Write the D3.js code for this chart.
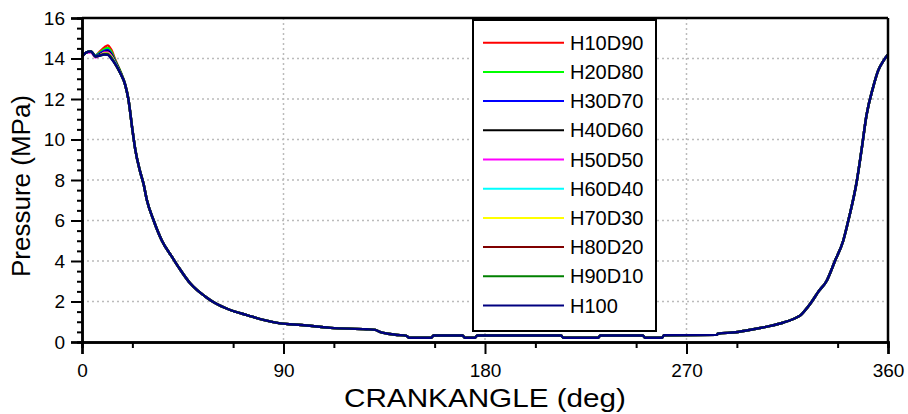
<!DOCTYPE html>
<html>
<head>
<meta charset="utf-8">
<script src="https://cdn.jsdelivr.net/npm/d3@7"></script>
<style>
body { margin: 0; background: #fff; }
text { font-family: Arial, "Liberation Sans", sans-serif; }
</style>
</head>
<body>
<div id="chart"></div>
<script>
// series names + colours
var seriesNames = ["H10D90", "H20D80", "H30D70", "H40D60", "H50D50", "H60D40", "H70D30", "H80D20", "H90D10", "H100"];
var seriesColors = ["#ff0000", "#00ff00", "#0000ff", "#000000", "#ff00ff", "#00ffff", "#ffff00", "#800000", "#008000", "#000080"];

// near TDC the fuels differ (crank angle 0..17 deg)
var peakAngles = [0, 2, 4, 6, 8, 10, 11.5, 13, 15, 17];
var peakP = [
	[14.1, 14.3, 14.35, 14.15, 14.35, 14.55, 14.65, 14.45, 13.9, 13.4],
	[14.1, 14.3, 14.35, 14.15, 14.3, 14.45, 14.52, 14.35, 13.85, 13.4],
	[14.1, 14.3, 14.35, 14.12, 14.25, 14.38, 14.42, 14.25, 13.8, 13.35],
	[14.1, 14.3, 14.35, 14.1, 14.2, 14.32, 14.35, 14.2, 13.8, 13.35],
	[14.05, 14.3, 14.3, 14.05, 14.15, 14.3, 14.3, 14.15, 13.75, 13.3],
	[14.1, 14.3, 14.35, 14.1, 14.15, 14.25, 14.25, 14.1, 13.75, 13.3],
	[14.1, 14.3, 14.35, 14.1, 14.15, 14.25, 14.25, 14.1, 13.7, 13.3],
	[14.1, 14.3, 14.35, 14.1, 14.15, 14.22, 14.22, 14.05, 13.7, 13.3],
	[14.1, 14.3, 14.35, 14.1, 14.15, 14.2, 14.2, 14.05, 13.7, 13.3],
	[14.1, 14.3, 14.35, 14.1, 14.15, 14.2, 14.18, 14.0, 13.7, 13.3]
];

// after ~17 deg all curves sit on top of each other
var tailAngles = [19.3, 20.7, 22.5, 23.8, 26, 27.5, 29, 32, 35.7, 40.2, 43.1, 48.3, 51.3, 55, 59, 66.2, 73.7, 81, 88.5, 98, 111, 127, 131, 133, 140, 145, 146, 156, 157, 170, 171, 175.5, 176.5, 214, 215, 230.5, 231.5, 250.5, 251.5, 259, 260, 283.5, 284, 292, 298, 306, 313, 318, 321, 324, 326, 329, 332.5, 336.3, 340, 342.5, 346, 348.2, 350.4, 353.4, 355.6, 358, 360];
var tailP = [12.7, 12.0, 10.5, 9.5, 8.4, 7.8, 7.0, 6.0, 5.0, 4.2, 3.7, 2.9, 2.57, 2.25, 1.95, 1.58, 1.33, 1.09, 0.92, 0.84, 0.7, 0.63, 0.6, 0.5, 0.36, 0.3, 0.21, 0.21, 0.32, 0.32, 0.21, 0.21, 0.32, 0.32, 0.21, 0.21, 0.32, 0.32, 0.21, 0.21, 0.33, 0.35, 0.41, 0.48, 0.59, 0.76, 0.95, 1.15, 1.33, 1.7, 2.0, 2.5, 3.0, 4.0, 5.0, 6.1, 7.9, 9.5, 11.2, 12.6, 13.4, 13.9, 14.2];

var xTicks = [0, 90, 180, 270, 360];
var yTicks = [0, 2, 4, 6, 8, 10, 12, 14, 16];

var W = 908, H = 414;
var margin = { left: 82, right: 20, top: 18, bottom: 72 };
var width = W - margin.left - margin.right;
var height = H - margin.top - margin.bottom;

var svg = d3.select("#chart").append("svg")
		.attr("width", W)
		.attr("height", H)
	.append("g")
		.attr("transform", "translate(" + margin.left + "," + margin.top + ")");

var xscale = d3.scaleLinear().domain([0, 360]).range([0, width]);
var yscale = d3.scaleLinear().domain([0, 16]).range([height, 0]);

// dotted grid
svg.selectAll(".hgrid").data(yTicks.slice(1, -1))
	.enter().append("line")
		.attr("x1", 0).attr("x2", width)
		.attr("y1", function(d){ return yscale(d); })
		.attr("y2", function(d){ return yscale(d); })
		.attr("stroke", "#bbb").attr("stroke-width", 1.5)
		.attr("stroke-dasharray", "2,3");
svg.selectAll(".vgrid").data(xTicks.slice(1, -1))
	.enter().append("line")
		.attr("y1", 0).attr("y2", height)
		.attr("x1", function(d){ return xscale(d); })
		.attr("x2", function(d){ return xscale(d); })
		.attr("stroke", "#bbb").attr("stroke-width", 1.5)
		.attr("stroke-dasharray", "2,3");

// curves
var line = d3.line()
	.x(function(d){ return xscale(d[0]); })
	.y(function(d){ return yscale(d[1]); })
	.curve(d3.curveMonotoneX);

var series = seriesNames.map(function(name, i){
	var pts = peakAngles.map(function(a, j){ return [a, peakP[i][j]]; });
	var tail = tailAngles.map(function(a, j){ return [a, tailP[j]]; });
	return { name: name, color: seriesColors[i], values: pts.concat(tail) };
});

svg.selectAll(".curve").data(series)
	.enter().append("path")
		.attr("class", "curve")
		.attr("d", function(d){ return line(d.values); })
		.attr("fill", "none")
		.attr("stroke", function(d){ return d.color; })
		.attr("stroke-width", 2.4)
		.attr("stroke-linejoin", "round");

// axes
var xAxis = d3.axisBottom(xscale).tickValues(xTicks).tickSize(12).tickPadding(10).tickFormat(d3.format("d"));
var xMinor = d3.axisBottom(xscale).tickValues(d3.range(22.5, 360, 45)).tickSize(6).tickFormat("");
var yAxis = d3.axisLeft(yscale).tickValues(yTicks).tickSize(11).tickPadding(6).tickFormat(d3.format("d"));
var yMinor = d3.axisLeft(yscale).tickValues(d3.range(0.5, 16, 0.5).filter(function(v){ return v % 2 !== 0; })).tickSize(5).tickFormat("");

function styleAxis(g){
	g.select(".domain").attr("stroke", "#000").attr("stroke-width", 2.5);
	g.selectAll(".tick line").attr("stroke", "#000").attr("stroke-width", 2);
	g.selectAll(".tick text").attr("fill", "#000").style("font-size", "19px").style("font-family", "Arial, 'Liberation Sans', sans-serif");
}

svg.append("g").attr("transform", "translate(0," + height + ")").call(xMinor).call(styleAxis);
svg.append("g").attr("transform", "translate(0," + height + ")").call(xAxis).call(styleAxis);
svg.append("g").call(yMinor).call(styleAxis);
svg.append("g").call(yAxis).call(styleAxis);

// frame top + right
svg.append("line").attr("x1", 0).attr("x2", width).attr("y1", 0).attr("y2", 0)
	.attr("stroke", "#000").attr("stroke-width", 2.5);
svg.append("line").attr("x1", width).attr("x2", width).attr("y1", 0).attr("y2", height)
	.attr("stroke", "#000").attr("stroke-width", 2.5);

// axis titles
svg.append("text")
	.attr("x", width / 2)
	.attr("y", H - margin.top - 7)
	.attr("text-anchor", "middle")
	.attr("textLength", 282)
	.attr("lengthAdjust", "spacingAndGlyphs")
	.style("font-size", "26px")
	.text("CRANKANGLE (deg)");
svg.append("text")
	.attr("transform", "translate(" + (30 - margin.left) + "," + (height / 2 + 6) + ") rotate(-90)")
	.attr("text-anchor", "middle")
	.style("font-size", "26px")
	.text("Pressure (MPa)");

// legend
var legend = svg.append("g").attr("transform", "translate(" + (473 - margin.left) + "," + (20 - margin.top) + ")");
legend.append("rect")
	.attr("width", 183).attr("height", 311)
	.attr("fill", "#fff").attr("stroke", "#000").attr("stroke-width", 2);
var rows = legend.selectAll(".row").data(series)
	.enter().append("g")
		.attr("transform", function(d, i){ return "translate(0," + (22.7 + i * 29.2) + ")"; });
rows.append("line")
	.attr("x1", 10).attr("x2", 91)
	.attr("stroke", function(d){ return d.color; })
	.attr("stroke-width", 2);
rows.append("text")
	.attr("x", 97).attr("y", 0)
	.attr("dy", "0.35em")
	.style("font-size", "20px")
	.text(function(d){ return d.name; });
</script>
</body>
</html>
